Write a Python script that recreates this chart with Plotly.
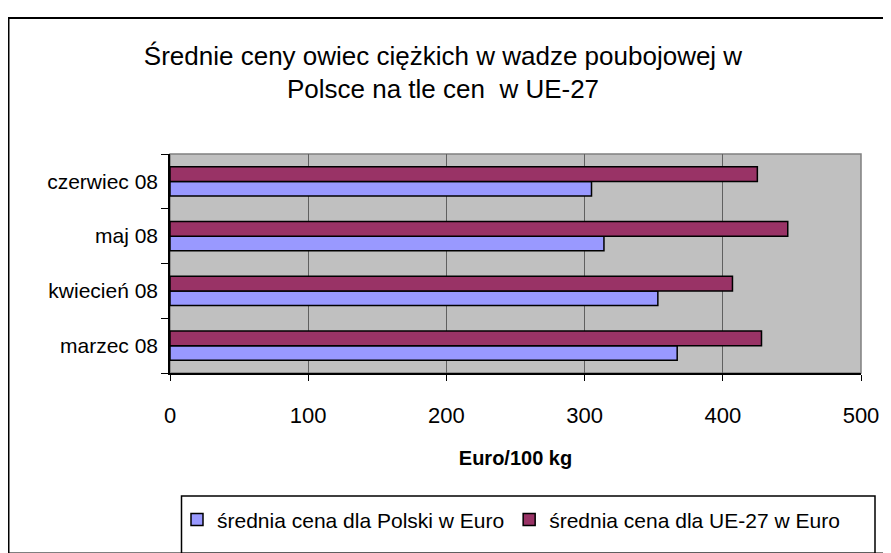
import plotly.graph_objects as go

categories = ["marzec 08", "kwiecień 08", "maj 08", "czerwiec 08"]
pl_values = [367, 353, 314, 305]
eu_values = [428, 407, 447, 425]
x_ticks = [0, 100, 200, 300, 400, 500]
series_names = ["średnia cena dla Polski w Euro", "średnia cena dla UE-27 w Euro"]

# page body has an 8px margin, so the figure is shifted by 8px
OFF = 8
W, H = 891 - OFF, 553 - OFF
# target screen coordinates of plot area
SL, SR, ST, SB = 170, 861, 154, 382
L, R, T, B = SL - OFF, W - (SR - OFF), ST - OFF, H - (SB - OFF)
pw, ph = W - L - R, H - T - B

def px(x):  # screen x -> paper
    return (x - OFF - L) / pw

def py(y):  # screen y -> paper
    return (H - B - (y - OFF)) / ph

fig = go.Figure()
fig.add_trace(go.Bar(y=categories, x=pl_values, orientation="h", name=series_names[0],
                     marker=dict(color="#9999FF", line=dict(color="black", width=1.5))))
fig.add_trace(go.Bar(y=categories, x=eu_values, orientation="h", name=series_names[1],
                     marker=dict(color="#993366", line=dict(color="black", width=1.5))))

font = "Liberation Sans, Arial, sans-serif"
fig.update_layout(
    width=W, height=H,
    margin=dict(l=L, r=R, t=T, b=B, pad=0),
    paper_bgcolor="white", plot_bgcolor="#C0C0C0",
    barmode="group", bargap=0.47, bargroupgap=0,
    font=dict(family=font, color="black"),
    title=dict(text="Średnie ceny owiec ciężkich w wadze poubojowej w<br>Polsce na tle cen  w UE-27",
               x=(443 - OFF) / W, xanchor="center", y=1 - (64.5 - OFF) / H, yanchor="middle",
               xref="container", yref="container",
               font=dict(size=26, family=font)),
    xaxis=dict(range=[0, 500], tickvals=x_ticks, showgrid=True, gridcolor="#606060", gridwidth=1,
               showline=True, linecolor="black", linewidth=1.5, ticks="outside", ticklen=6,
               tickcolor="black", tickfont=dict(size=22), zeroline=False, ticklabelstandoff=16,
               title=dict(text="<b>Euro/100 kg</b>", font=dict(size=20), standoff=24)),
    yaxis=dict(showline=True, linecolor="black", linewidth=1.5, ticks="outside", ticklen=7,
               tickcolor="black", tickson="boundaries", tickfont=dict(size=21), showgrid=False,
               ticklabelstandoff=6),
    legend=dict(orientation="h", x=px(177), xanchor="left", y=py(535), yanchor="middle",
                font=dict(size=21), bgcolor="rgba(0,0,0,0)", itemwidth=30),
    showlegend=True,
)

# plot area border (gray top/right)
fig.add_shape(type="rect", xref="paper", yref="paper", x0=0, x1=1, y0=0, y1=1,
              line=dict(color="#808080", width=1.5), layer="below")
# chart outer border
fig.add_shape(type="rect", xref="paper", yref="paper", x0=px(8.5), x1=px(900), y0=py(570), y1=py(12.5),
              line=dict(color="black", width=2))
# legend box
fig.add_shape(type="rect", xref="paper", yref="paper", x0=px(181.5), x1=px(875), y0=py(570), y1=py(510),
              line=dict(color="black", width=1.5))

fig.write_html("out.html")
